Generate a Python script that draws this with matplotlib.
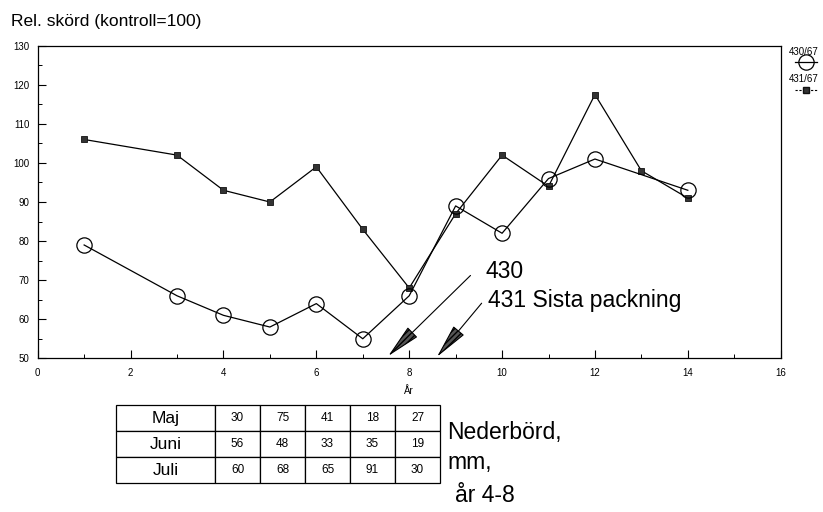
import matplotlib
matplotlib.use("Agg")
import matplotlib.pyplot as plt
from matplotlib.lines import Line2D
from matplotlib.ticker import MultipleLocator

plt.rcParams['font.family'] = ['Liberation Sans', 'DejaVu Sans']

# ---- data ----
years_430 = [1, 3, 4, 5, 6, 7, 8, 9, 10, 11, 12, 14]
yield_430 = [79, 66, 61, 58, 64, 55, 66, 89, 82, 96, 101, 93]
years_431 = [1, 3, 4, 5, 6, 7, 8, 9, 10, 11, 12, 13, 14]
yield_431 = [106, 102, 93, 90, 99, 83, 68, 87, 102, 94, 117.5, 98, 91]
label_430 = "430/67"
label_431 = "431/67"

months = ["Maj", "Juni", "Juli"]
rain_maj = [30, 75, 41, 18, 27]
rain_juni = [56, 48, 33, 35, 19]
rain_juli = [60, 68, 65, 91, 30]

xticks = [0, 2, 4, 6, 8, 10, 12, 14, 16]
yticks = [50, 60, 70, 80, 90, 100, 110, 120, 130]

# annotation arrows (text anchor -> tip), data coords
arrow_430 = ((9.32, 71.2), (7.55, 50.6))
arrow_431 = ((9.56, 64.1), (8.60, 50.4))

W, H = 823, 512
fig = plt.figure(figsize=(W / 100, H / 100), dpi=100)

def fx(px):
    return px / W

def fy(py):
    return 1 - py / H

ax = fig.add_axes([fx(37.7), fy(358.3), fx(780.7) - fx(37.7), fy(45.7) - fy(358.3)])

ax.plot(years_431, yield_431, color='black', lw=0.9, marker='s', ms=5,
        mfc='#333333', mec='#111111', mew=0.6, zorder=3)
ax.plot(years_430, yield_430, color='black', lw=0.9, marker='o', ms=11,
        mfc='none', mec='black', mew=0.9, zorder=4)

ax.set_xlim(0, 16)
ax.set_ylim(50, 130)
ax.set_xticks(xticks)
ax.set_yticks(yticks)
ax.xaxis.set_minor_locator(MultipleLocator(1))
ax.yaxis.set_minor_locator(MultipleLocator(5))
ax.tick_params(axis='both', which='major', direction='in', length=6, width=0.8,
               labelsize=7, top=False, right=False)
ax.tick_params(axis='both', which='minor', direction='in', length=3, width=0.7,
               top=False, right=False)
ax.tick_params(axis='x', which='major', pad=7)
ax.tick_params(axis='y', which='major', pad=6)
for sp in ax.spines.values():
    sp.set_linewidth(0.9)
ax.set_xlabel("År", fontsize=7, labelpad=6)

# arrows
for (start, tip) in (arrow_430, arrow_431):
    ax.annotate("", xy=tip, xytext=start,
                arrowprops=dict(arrowstyle='-|>,head_length=1.1,head_width=0.22',
                                mutation_scale=20, lw=0.8, color='black',
                                fc='#555555', hatch='//////', shrinkA=0, shrinkB=0),
                annotation_clip=False)

fig.text(fx(486), fy(271), "430", fontsize=16.5, va='center', ha='left')
fig.text(fx(488), fy(300), "431 Sista packning", fontsize=16.5, va='center', ha='left')

# title
fig.text(fx(11), fy(21.7), "Rel. skörd (kontroll=100)", fontsize=12.5, va='center', ha='left')

# legend on the right
fig.text(fx(804), fy(51.7), label_430, fontsize=7, ha='center', va='center')
fig.add_artist(Line2D([fx(795), fx(817)], [fy(62.3), fy(62.3)], color='black', lw=0.9,
                      transform=fig.transFigure))
fig.add_artist(Line2D([fx(806)], [fy(62.3)], color='black', lw=0, marker='o', ms=11,
                      mfc='none', mec='black', mew=0.9, transform=fig.transFigure))
fig.text(fx(804), fy(79.3), label_431, fontsize=7, ha='center', va='center')
fig.add_artist(Line2D([fx(795), fx(817)], [fy(90), fy(90)], color='black', lw=0.8,
                      ls=(0, (2, 1.5)), transform=fig.transFigure))
fig.add_artist(Line2D([fx(806)], [fy(90)], color='black', lw=0, marker='s', ms=5,
                      mfc='#333333', mec='#111111', transform=fig.transFigure))

# precipitation table
tab_left, tab_right, tab_top, tab_bottom = 116, 440, 405, 483.3
tax = fig.add_axes([fx(tab_left), fy(tab_bottom), fx(tab_right) - fx(tab_left),
                    fy(tab_top) - fy(tab_bottom)])
tax.axis('off')
rows = [rain_maj, rain_juni, rain_juli]
cell_text = [[m] + [str(v) for v in r] for m, r in zip(months, rows)]
first_w = 99
num_w = (tab_right - tab_left - first_w) / 5
col_widths = [first_w / (tab_right - tab_left)] + [num_w / (tab_right - tab_left)] * 5
tbl = tax.table(cellText=cell_text, colWidths=col_widths, bbox=[0, 0, 1, 1],
                cellLoc='center')
tbl.auto_set_font_size(False)
for (r, c), cell in tbl.get_celld().items():
    cell.set_linewidth(0.9)
    cell.set_edgecolor('black')
    if c == 0:
        cell.get_text().set_fontsize(12.5)
    else:
        cell.get_text().set_fontsize(8.5)

fig.text(fx(447), fy(432), "Nederbörd,", fontsize=16.5, va='center', ha='left')
fig.text(fx(447), fy(462), "mm,", fontsize=16.5, va='center', ha='left')
fig.text(fx(455), fy(495), "år 4-8", fontsize=16.5, va='center', ha='left')

fig.savefig("out.png", dpi=100)
